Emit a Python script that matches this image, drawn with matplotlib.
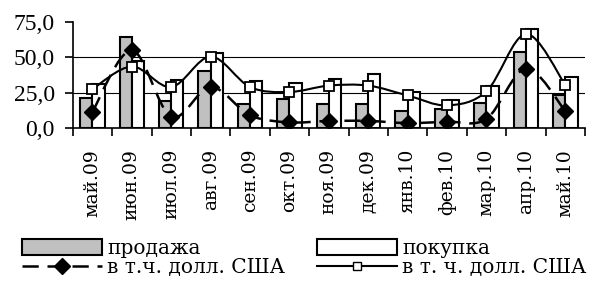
import matplotlib
matplotlib.use('Agg')
import matplotlib.pyplot as plt
from matplotlib.path import Path
from matplotlib.patches import PathPatch, Patch
from matplotlib.lines import Line2D

months = ['май.09', 'июн.09', 'июл.09', 'авг.09', 'сен.09', 'окт.09', 'ноя.09',
          'дек.09', 'янв.10', 'фев.10', 'мар.10', 'апр.10', 'май.10']
sale = [21.5, 64.5, 19.0, 40.0, 17.0, 20.5, 17.0, 17.0, 12.0, 13.5, 18.0, 53.5, 23.5]
buy = [31.0, 47.5, 34.0, 53.0, 33.0, 32.0, 35.0, 38.0, 25.5, 19.5, 30.0, 70.0, 36.0]
sale_usd = [11.5, 55.0, 8.0, 29.0, 9.0, 4.0, 5.0, 5.0, 3.5, 4.5, 6.5, 42.0, 12.0]
buy_usd = [27.5, 43.5, 29.0, 50.5, 29.0, 25.5, 30.0, 30.0, 23.0, 16.0, 26.0, 66.5, 30.5]
yticks = [0, 25, 50, 75]

plt.rcParams['font.family'] = ['DejaVu Serif']


def smooth_path(xs, ys):
    # excel-like smoothed line: cubic bezier through the points
    n = len(xs)
    verts = [(xs[0], ys[0])]
    codes = [Path.MOVETO]
    for i in range(n - 1):
        x0, y0 = (xs[i - 1], ys[i - 1]) if i > 0 else (xs[i], ys[i])
        x3, y3 = (xs[i + 2], ys[i + 2]) if i + 2 < n else (xs[i + 1], ys[i + 1])
        c1 = (xs[i] + (xs[i + 1] - x0) / 6, ys[i] + (ys[i + 1] - y0) / 6)
        c2 = (xs[i + 1] - (x3 - xs[i]) / 6, ys[i + 1] - (y3 - ys[i]) / 6)
        verts += [c1, c2, (xs[i + 1], ys[i + 1])]
        codes += [Path.CURVE4] * 3
    return Path(verts, codes)


fig = plt.figure(figsize=(5.92, 2.82), dpi=100)
ax = fig.add_axes([0.1228, 0.5461, 0.8654, 0.3759])

x = list(range(len(months)))
w = 0.31
ax.bar([i - w / 2 for i in x], sale, w, color='#c0c0c0', edgecolor='black', linewidth=1.5, zorder=2)
ax.bar([i + w / 2 for i in x], buy, w, color='white', edgecolor='black', linewidth=1.5, zorder=2)

dash = (0, (6.5, 3.5))
ax.add_patch(PathPatch(smooth_path(x, sale_usd), fill=False, edgecolor='black', lw=1.8,
                       linestyle=dash, zorder=3))
ax.add_patch(PathPatch(smooth_path(x, buy_usd), fill=False, edgecolor='black', lw=1.5, zorder=3))
ax.plot(x, sale_usd, linestyle='none', marker='D', ms=8, color='black', zorder=4)
ax.plot(x, buy_usd, linestyle='none', marker='s', ms=6.5, mfc='white', mec='black', mew=1.3, zorder=4)

ax.set_xlim(-0.5, len(months) - 0.5)
ax.set_ylim(0, 75)
ax.set_yticks(yticks, [f'{v:.1f}'.replace('.', ',') for v in yticks],
              fontfamily='Liberation Serif', fontsize=17)
for v in yticks[1:-1]:
    ax.axhline(v, color='black', lw=0.8, zorder=1)

ax.set_xticks(x)
ax.set_xticklabels(months, rotation=90, fontsize=13.5)
ax.set_xticks([i - 0.5 for i in range(len(months) + 1)], minor=True)
ax.tick_params(axis='x', which='major', length=0, pad=15)
ax.tick_params(axis='x', which='minor', length=6, width=1.2, direction='out')
ax.tick_params(axis='y', length=5.5, width=1.2, direction='out', pad=7.5)

for s in ['top', 'right']:
    ax.spines[s].set_visible(False)
for s in ['left', 'bottom']:
    ax.spines[s].set_linewidth(1.2)

handles = [Patch(facecolor='#c0c0c0', edgecolor='black', lw=1.5),
           Line2D([], [], color='black', lw=1.8, linestyle=dash, marker='D', ms=8),
           Patch(facecolor='white', edgecolor='black', lw=1.5),
           Line2D([], [], color='black', lw=1.5, marker='s', ms=6, mfc='white', mec='black')]
labels = ['продажа', 'в т.ч. долл. США', 'покупка', 'в т. ч. долл. США']
fig.legend(handles, labels, loc='upper left', bbox_to_anchor=(0.037, 0.152),
           bbox_transform=fig.transFigure, ncols=2, frameon=False, fontsize=14.5,
           handlelength=4.0, handleheight=0.8, handletextpad=0.25, columnspacing=1.55,
           labelspacing=0.0, borderpad=0, borderaxespad=0, numpoints=1)

fig.savefig('out.png', dpi=100)
